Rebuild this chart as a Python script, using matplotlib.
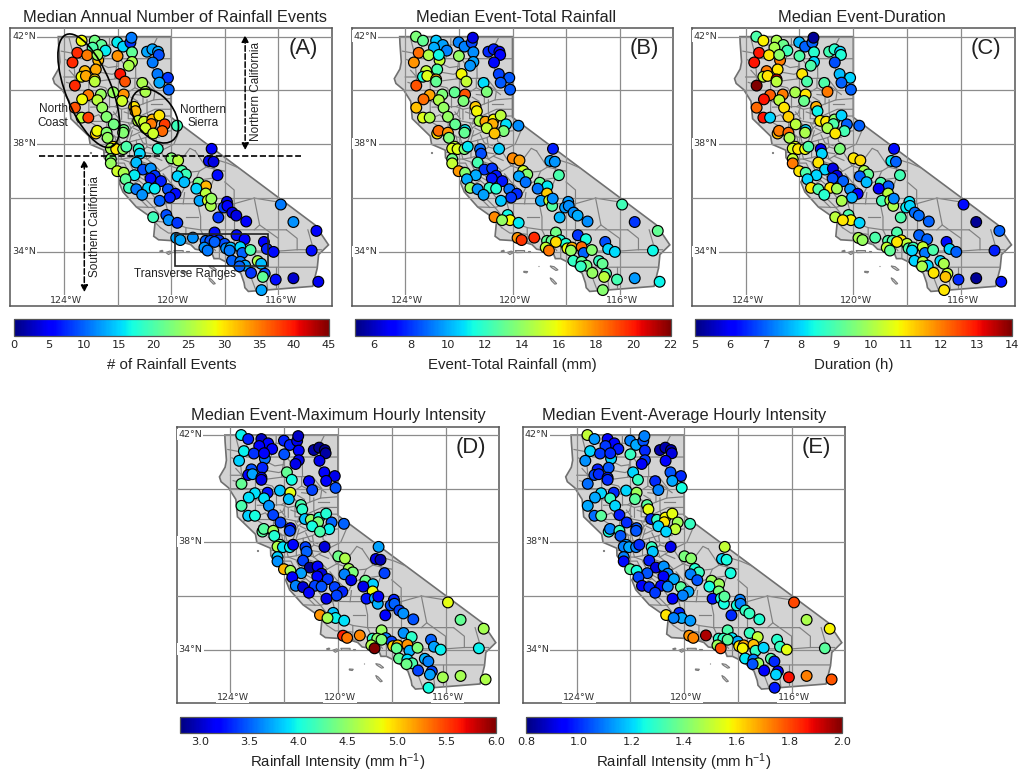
import numpy as np
import matplotlib
matplotlib.use('Agg')
import matplotlib.pyplot as plt
from matplotlib.patches import Polygon, Ellipse, Rectangle
from matplotlib.cm import ScalarMappable
from matplotlib.colors import Normalize

plt.rcParams['font.family'] = ['Liberation Sans', 'DejaVu Sans']
plt.rcParams['mathtext.default'] = 'regular'

W, H = 1021, 774

# station positions
lon = [-123.60,-123.34,-122.85,-122.60,-122.93,-122.45,-123.50,-123.13,-122.72,-122.75,-123.68,-122.81,-123.22,-123.34,
       -123.18,-122.85,-122.85,-123.59,-123.09,-123.32,-122.62,-122.75,-123.59,-122.57,-123.34,-123.09,-122.41,-122.14,
       -122.81,-122.76,-122.41,-122.37,-122.01,-121.79,-121.52,-121.48,-121.46,-122.00,-121.46,-121.58,-120.90,-120.70,
       -120.49,-120.46,-120.69,-121.90,-121.72,-120.51,-120.12,-120.44,-121.08,-120.09,-120.96,-122.16,-121.77,-121.83,
       -121.38,-121.33,-121.23,-121.01,-120.70,-120.44,-120.74,-120.96,-120.24,-120.33,-120.67,-119.78,-121.77,-121.79,
       -122.16,-122.25,-122.05,-121.79,-121.67,-121.21,-121.17,-120.50,-118.49,-119.99,-119.74,-118.59,-118.42,-121.30,
       -122.25,-122.25,-121.05,-120.76,-122.01,-121.77,-121.37,-120.61,-120.77,-120.38,-121.70,-119.60,-119.45,-119.76,
       -119.51,-118.27,-118.98,-118.70,-119.06,-121.57,-121.30,-120.86,-120.61,-121.08,-120.12,-119.84,-120.05,-120.43,
       -118.71,-118.94,-118.63,-118.52,-118.50,-117.92,-118.04,-117.90,-117.72,-117.57,-118.24,-117.20,-115.91,-115.44,
       -114.58,-120.67,-120.18,-120.09,-120.39,-119.77,-119.81,-119.66,-119.19,-118.38,-117.56,-117.26,-118.71,-118.54,
       -118.22,-118.01,-118.38,-118.76,-118.64,-117.95,-117.78,-117.82,-117.42,-117.34,-117.04,-116.54,-116.43,-116.18,
       -114.76,-117.73,-117.42,-117.24,-117.45,-116.77,-116.64,-117.02,-116.51,-116.58,-116.10,-115.44,-114.51,-116.63]
lat = [42.00,41.85,41.85,41.69,41.59,41.48,41.40,41.31,41.12,41.32,41.04,40.78,40.72,40.51,
       40.54,40.41,40.33,40.18,39.83,39.67,39.85,39.64,39.36,39.36,38.99,38.99,39.02,38.74,
       38.40,38.50,38.43,38.24,41.79,41.63,41.78,41.96,41.42,41.28,41.06,40.92,41.44,41.53,
       41.44,41.32,41.04,40.61,40.33,40.61,40.47,40.29,40.28,40.03,39.95,39.93,39.85,39.61,
       39.39,39.23,38.87,38.84,38.92,39.07,38.75,38.60,38.74,38.49,38.40,38.69,38.53,38.43,
       37.91,37.84,37.82,37.82,37.91,37.82,37.65,37.83,37.83,37.48,37.40,37.38,37.35,37.32,
       37.45,37.29,37.06,37.10,37.00,36.94,36.85,36.83,36.73,36.63,36.70,37.01,36.88,36.81,
       36.59,36.85,36.57,36.44,36.35,36.38,36.33,36.38,36.35,36.12,36.33,36.16,36.02,35.90,
       36.17,35.90,35.91,35.71,35.98,35.86,35.65,35.71,35.46,35.35,35.28,35.13,35.76,35.11,
       34.78,35.29,35.37,35.18,35.18,35.08,34.52,34.44,34.53,34.72,34.62,34.47,34.41,34.41,
       34.43,34.30,34.37,34.16,34.05,34.13,34.16,34.05,34.18,33.96,34.07,34.37,34.11,34.00,
       34.05,33.67,33.63,33.49,33.46,33.66,33.56,33.22,33.19,33.07,32.97,33.02,32.89,32.58]

nan = float('nan')
events = [nan,29,22,21,20,16,39,35,32,24,39,33,32,29,
          33,31,26,39,35,29,24,26,37,24,26,38,23,22,
          31,29,23,24,16,15,8,11,21,34,25,25,13,13,
          13,9,11,40,37,11,8,13,25,10,25,24,34,27,
          30,32,26,27,32,30,35,27,38,36,27,19,22,23,
          30,25,30,24,20,18,15,18,5,23,26,6,4,14,
          23,24,9,12,27,25,16,8,6,7,21,20,19,15,
          14,6,22,32,15,19,11,15,16,12,9,6,7,10,
          26,13,27,25,24,4,8,5,4,4,8,5,11,12,
          5,19,9,12,nan,8,13,13,12,6,6,5,10,9,
          8,9,10,12,11,12,14,11,15,10,20,5,7,6,
          6,10,11,13,10,25,14,8,9,21,6,3,4.5,13]
total = [13.5,13,10.5,9.8,10,9.3,18.5,14.5,15,11.3,17.8,12.5,15,11.5,
         15.5,17.5,13,19,17.5,18.5,13.5,14.5,17,14,15.5,14.5,14,13,
         16.5,18.5,17.8,13.5,9.3,9.3,8.3,6.5,9.5,14,9.8,9.6,7.8,7.6,
         6.8,7,7.2,16,15,8.2,8.6,8.6,10.8,8.6,13.5,13,19,13.5,
         16.8,16,14.5,17.5,16,14.8,17.3,15,10.9,13.5,17,9.5,11,13,
         15,15.5,15.5,13.5,11,9,8.4,10.6,7.6,18,17.6,9.8,9.6,12.4,
         13.3,15,8,8,17.7,13.7,10,7.5,7.5,7.5,10,15.2,13.7,9.9,
         9,12.5,13,11,9.1,14,9.6,12,11.7,9.8,9,7.8,8,10.5,
         16.8,9.9,15,12.7,9.5,9.7,9.7,9.5,9.5,10,10.2,9.5,12.3,8,
         13,18,11.3,16,14,11,17.8,19.5,19.7,13.3,8,11.5,13,13,
         11.5,11.6,16.5,15,18.3,15.8,17.3,14,18.5,8.8,13.7,8.4,10.7,10.8,
         11.3,12,13,13.4,12,12,13,14,12.5,14.8,12.4,9.7,11.2,13.7]
duration = [9,10.9,10,9.3,10,8.8,13,11,12,9.7,13,11,12,10.3,
            11,13.2,10.2,14,12.3,13,12,10.2,12.2,11,13,8,11.2,10.2,
            11.4,12,12.2,10,7.7,7,7,5.2,8.6,9,8,9,8.9,8.6,
            8,8.5,6.8,11,9,7.8,8,7,9,7,12,10,11,9.3,
            11.5,8.3,10.9,11,9.7,8,9,10,7,8.9,11,7,8,10,
            10.6,10.5,11,10.8,9,6,8,9.5,6.2,11,11.1,8.2,7,11,
            10.3,12,8,5.8,11,9,8,5.8,6.8,7,8,10,9.2,7,
            7.8,8.9,9,7,6,11,9,11,9.9,8.6,7.4,6,7.7,10,
            10.2,8.9,10,10,7.3,8.1,8.2,8,7.1,7.1,9,7,6.2,5.2,
            7,10.2,9,10.9,11,8,10,9.8,9,9,7,7,9,9,
            11,10.2,11,10.3,9.2,9,8.8,8,10.3,7.2,9,6.2,8,7,
            6.4,8,10.2,8,10,8,10,11,10.3,11.3,6.5,5.2,6.3,11]
max_int = [3.95,3.3,3.0,3.2,3.2,3.2,3.95,3.35,3.55,3.2,3.85,3.3,3.45,3.15,
           3.7,3.2,3.1,4.3,3.9,3.9,3.25,3.9,4.2,3.65,3.85,4.0,3.4,3.4,
           4.25,4.25,4.55,4.05,3.3,3.3,3.1,3.0,3.2,3.45,3.1,3.1,2.9,2.85,
           2.85,2.9,3.1,4.3,4.0,3.2,3.1,3.15,3.2,3.45,3.4,3.8,4.8,3.8,
           4.2,4.1,3.8,4.5,4.05,4.05,4.4,4.0,3.5,3.95,4.2,3.5,3.15,3.4,
           4.35,4.6,3.9,3.95,3.2,3.4,3.5,3.05,3.7,4.35,4.6,3.1,2.95,3.4,
           3.85,3.65,2.85,3.15,5.1,4.55,3.7,3.05,3.2,3.35,3.2,4.55,4.4,3.6,
           3.1,3.4,4.35,3.85,3.1,3.6,3.05,3.4,3.45,3.15,3.4,3.3,3.4,3.1,
           4.85,3.25,3.7,3.75,3.2,3.3,3.45,3.5,3.4,3.65,3.15,3.45,4.8,4.3,
           4.55,5.2,3.8,3.95,4.55,3.9,5.6,5.3,5.25,4.5,3.65,4.1,4.1,4.45,
           3.6,3.4,4.4,4.6,6.0,5.0,5.1,4.3,5.2,3.75,4.4,3.5,3.7,3.95,
           3.95,4.3,3.9,4.2,4.35,3.75,3.6,3.4,3.4,3.7,4.55,4.55,4.6,4.0]
avg_int = [1.5,1.13,.93,.95,1.02,.98,1.2,1.02,1.2,1.0,1.12,1.05,.98,1.03,
           1.0,.97,1.0,1.08,1.2,1.15,1.0,1.3,1.15,1.2,1.08,1.35,.98,1.0,
           1.25,1.1,1.3,1.05,1.1,1.15,1.05,1.1,1.0,1.3,1.02,.93,.85,.85,
           .85,.9,.95,1.2,1.3,1.05,1.0,1.15,1.0,1.25,1.1,1.2,1.45,1.35,
           1.35,1.55,1.0,1.3,1.58,1.55,1.6,1.2,1.45,1.5,1.2,1.3,1.05,1.05,
           1.12,1.1,1.15,1.1,1.0,1.3,1.18,.92,1.5,1.4,1.42,1.2,1.25,.98,
           1.1,.96,.9,1.12,1.35,1.25,1.05,1.1,.95,1.15,1.03,1.27,1.3,1.1,
           1.05,1.25,1.45,1.45,1.25,.95,1.0,.95,1.1,1.02,1.35,1.15,1.1,.95,
           1.4,.97,1.25,1.25,1.35,1.1,1.25,1.1,1.3,1.3,1.0,1.27,1.8,1.47,
           1.58,1.6,1.0,1.15,1.1,1.13,1.7,1.72,1.95,1.33,1.3,1.5,1.27,1.3,
           1.22,1.15,1.35,1.45,1.8,1.6,1.68,1.58,1.65,1.3,1.2,1.28,1.3,1.55,
           1.35,1.22,1.1,1.45,1.05,1.33,1.0,.95,.95,1.2,1.87,1.73,1.78,.98]

# panel settings
panel_titles = ['Median Annual Number of Rainfall Events', 'Median Event-Total Rainfall', 'Median Event-Duration',
                'Median Event-Maximum Hourly Intensity', 'Median Event-Average Hourly Intensity']
title_shift = [4, 3.5, 9, 0.5, 0]
panel_tags = ['(A)', '(B)', '(C)', '(D)', '(E)']
cbar_labels = ['# of Rainfall Events', 'Event-Total Rainfall (mm)', 'Duration (h)',
               'Rainfall Intensity (mm h$^{-1}$)', 'Rainfall Intensity (mm h$^{-1}$)']
cbar_pads = [5.5, 5.5, 5.5, 3, 3]
vmins = [0, 5, 5, 2.8, 0.8]
vmaxs = [45, 22, 14, 6, 2]
cbar_ticks = [list(range(0, 50, 5)), list(range(6, 24, 2)), list(range(5, 15)),
              [3.0, 3.5, 4.0, 4.5, 5.0, 5.5, 6.0], [0.8, 1.0, 1.2, 1.4, 1.6, 1.8, 2.0]]
tick_fmt = ['%d', '%d', '%d', '%.1f', '%.1f']
series = [events, total, duration, max_int, avg_int]

# pixel boxes: left, right, top, bottom
map_boxes = [(10.3, 332, 28.3, 305.7), (351.7, 673.3, 28.3, 305.7), (691.7, 1015, 28.3, 305.7),
             (176.7, 499.3, 426.7, 703.3), (523, 845.3, 426.7, 703.3)]
bar_boxes = [(13.7, 329, 319, 335.7), (355, 670.7, 319, 335.7), (695, 1011.7, 319, 335.7),
             (180, 496, 717.3, 732.7), (526, 842.3, 717.3, 732.7)]

# state outline
state_lon = [-124.21,-120.0,-120.0,-114.63,-114.13,-114.5,-114.55,-114.72,-117.12,-117.25,-117.28,-117.4,-117.7,-117.9,
             -118.2,-118.4,-118.5,-118.7,-119.1,-119.27,-119.7,-120.47,-120.65,-120.6,-120.87,-121.3,-121.8,-121.95,
             -121.8,-122.03,-122.5,-122.51,-123.02,-123.07,-123.74,-123.8,-124.07,-124.35,-124.41,-124.2,-124.15,-124.2]
state_lat = [42.0,42.0,39.0,35.0,34.26,33.9,33.4,32.72,32.53,32.67,32.85,33.2,33.46,33.6,
             33.75,33.75,34.0,34.03,34.1,34.27,34.4,34.45,34.58,35.1,35.37,35.67,36.23,36.6,
             36.8,36.95,37.5,37.78,38.0,38.3,38.95,39.6,40.03,40.26,40.44,40.8,41.06,41.75]

islands = [[(-120.43,34.03),(-120.33,34.06),(-120.3,34.02),(-120.4,34.0)],
           [(-120.2,33.98),(-120.05,34.03),(-119.95,33.98),(-120.1,33.9)],
           [(-119.9,34.05),(-119.55,34.05),(-119.55,33.98),(-119.85,33.97)],
           [(-119.43,34.02),(-119.35,34.02),(-119.35,34.0),(-119.43,34.0)],
           [(-119.58,33.28),(-119.43,33.27),(-119.47,33.22),(-119.58,33.24)],
           [(-119.05,33.49),(-119.02,33.49),(-119.02,33.46),(-119.05,33.46)],
           [(-118.6,33.48),(-118.45,33.45),(-118.3,33.33),(-118.38,33.31),(-118.55,33.42)],
           [(-118.6,33.04),(-118.5,32.98),(-118.35,32.82),(-118.42,32.8),(-118.55,32.93)],
           [(-123.03,37.71),(-122.99,37.71),(-122.99,37.68),(-123.03,37.68)]]

# county and sub-county lines
county_lines = [
    [(-123.82,42),(-123.66,41.38),(-124.1,41.46)], [(-123.66,41.38),(-123.62,40.93),(-123.55,40.0),(-124.05,40.0)],
    [(-123.66,41.38),(-123.41,41.18),(-122.9,41.2),(-122.5,41.18),(-121.45,41.18),(-120,41.18)],
    [(-121.45,42),(-121.45,41.18)], [(-123.07,40.3),(-122.0,40.44),(-121.35,40.45),(-120.95,40.45)],
    [(-121.33,41.18),(-121.32,40.45)], [(-122.9,41.2),(-122.75,40.7),(-123.07,40.3),(-123.07,40.0),(-123.55,40.0)],
    [(-123.07,40.0),(-122.93,39.8),(-121.8,39.8),(-121.35,40.1),(-121.35,40.45)],
    [(-123.07,40.0),(-123.07,39.4),(-123.07,39.0),(-123.35,38.85),(-123.55,38.77)],
    [(-123.07,38.85),(-122.63,38.6),(-122.4,38.15)], [(-123.07,38.85),(-122.8,38.85),(-122.4,38.85),(-122.1,38.9),(-121.6,38.8),(-121.5,38.6)],
    [(-123.0,39.38),(-122.1,39.4),(-121.85,39.3),(-121.85,38.93)], [(-121.8,39.8),(-121.95,39.5),(-122.1,39.4)],
    [(-122.4,38.15),(-122.05,38.05),(-121.7,38.05),(-121.6,38.3),(-121.5,38.6)], [(-122.4,38.85),(-122.4,38.5),(-122.1,38.3),(-122.05,38.05)],
    [(-121.85,39.3),(-121.6,39.35),(-121.3,39.4),(-121.05,39.5),(-120.65,39.65),(-120.0,39.7)],
    [(-121.35,40.1),(-121.05,39.95),(-121.05,39.5)], [(-120.95,40.45),(-120.6,40.0),(-120.65,39.65)],
    [(-121.6,39.35),(-121.6,38.95),(-121.3,38.95),(-121.05,39.1),(-120.6,39.3),(-120.0,39.3)],
    [(-121.6,38.8),(-121.3,38.75),(-121.05,38.8),(-120.5,39.05),(-120.0,39.05)], [(-121.5,38.6),(-121.3,38.75)],
    [(-121.3,38.75),(-121.05,38.5),(-120.9,38.5),(-120.3,38.7),(-120.0,38.75),(-119.6,38.7)],
    [(-121.5,38.3),(-121.05,38.5)], [(-121.7,38.05),(-121.3,38.15),(-120.95,38.25),(-120.6,38.45),(-120.0,38.5)],
    [(-120.95,38.25),(-120.9,37.9),(-120.4,37.75),(-119.9,38.0),(-119.6,38.7)], [(-120.9,37.9),(-121.25,37.6),(-121.55,37.5),(-121.55,37.85),(-121.7,38.05)],
    [(-122.5,37.7),(-122.1,37.7),(-121.55,37.85)], [(-122.5,37.5),(-122.1,37.45),(-121.85,37.45),(-121.55,37.5)],
    [(-122.3,37.1),(-122.1,37.45)], [(-122.3,37.15),(-121.8,37.15),(-121.7,36.9),(-121.8,36.8)],
    [(-121.85,37.45),(-121.45,37.3),(-121.2,37.15),(-120.85,37.05),(-120.6,36.95)], [(-121.7,36.9),(-121.45,36.95),(-121.2,36.65),(-120.9,36.4),(-120.6,36.0),(-120.2,35.8)],
    [(-121.25,37.6),(-120.9,37.45),(-120.6,37.2),(-120.4,37.0),(-120.6,36.95)], [(-120.9,37.45),(-120.4,37.75)],
    [(-120.4,37.75),(-120.05,37.2),(-120.4,37.0)], [(-120.05,37.2),(-119.6,37.45),(-119.3,37.85),(-119.1,37.75)],
    [(-120.05,37.2),(-119.75,37.1),(-119.45,36.95),(-118.95,37.0),(-118.7,37.15),(-119.1,37.75)],
    [(-120.2,35.8),(-120.0,36.15),(-119.6,36.2),(-119.45,36.5),(-119.1,36.65),(-118.95,37.0)],
    [(-120.2,35.8),(-119.55,35.79),(-118.95,35.79),(-118.0,35.79),(-117.65,35.79)], [(-119.1,36.65),(-118.4,36.75),(-118.4,37.45)],
    [(-118.95,35.79),(-118.6,36.2),(-118.4,36.75)], [(-120.65,35.65),(-120.2,35.8)], [(-121.3,35.67),(-120.65,35.65)],
    [(-120.65,35.15),(-120.2,35.1),(-119.7,35.0),(-119.45,34.9),(-118.9,34.82),(-117.65,34.82),(-115.7,34.82)],
    [(-119.45,34.9),(-119.45,34.4),(-119.2,34.2)], [(-118.9,34.82),(-118.7,34.4),(-118.7,34.03)],
    [(-119.7,35.0),(-120.1,35.4),(-120.2,35.8)], [(-117.65,34.82),(-117.65,34.0),(-117.5,33.9),(-117.7,33.46)],
    [(-117.65,35.79),(-117.65,34.82)], [(-117.65,34.0),(-116.9,34.03),(-116.0,34.03),(-115.3,34.08),(-114.4,34.08)],
    [(-117.5,33.5),(-116.9,33.43),(-116.1,33.43),(-114.5,33.43)], [(-116.1,33.43),(-116.1,32.62)],
    [(-118.4,37.45),(-117.9,37.3),(-117.2,37.0)], [(-117.65,35.79),(-116.9,36.0),(-116.3,35.9),(-115.65,35.8)],
    [(-118.0,36.6),(-117.65,36.3),(-117.65,35.79)], [(-116.9,36.0),(-116.7,35.0),(-116.0,34.5),(-116.0,34.03)],
    [(-115.7,34.82),(-115.3,34.5),(-115.3,34.08)], [(-114.9,34.82),(-114.75,34.3)], [(-116.7,35.0),(-116.9,34.82)],
    [(-118.3,34.82),(-118.2,34.4),(-118.2,33.75)], [(-118.7,34.4),(-118.2,34.4),(-117.65,34.3)], [(-117.1,33.43),(-117.0,33.0),(-116.85,32.6)],
    [(-116.5,33.43),(-116.4,32.62)], [(-122.8,40.7),(-122.2,40.6),(-121.8,40.75)], [(-122.5,41.18),(-122.3,41.7),(-122.3,42)],
    [(-123.2,41.7),(-122.9,41.6),(-122.3,41.7),(-121.8,41.6),(-121.45,41.6)], [(-123.3,41.2),(-123.4,41.6),(-123.2,42)],
    [(-120.5,41.18),(-120.7,41.6),(-120.5,42)], [(-122.0,41.18),(-122.1,40.44)], [(-124.0,40.5),(-123.62,40.5),(-123.07,40.65)],
    [(-123.55,39.5),(-123.07,39.6),(-122.7,39.5)], [(-122.7,39.8),(-122.6,39.38)], [(-122.3,39.8),(-122.3,39.4)],
    [(-122.95,39.0),(-122.7,39.1),(-122.5,38.85)], [(-121.85,39.8),(-121.55,39.55),(-121.6,39.35)], [(-121.3,39.4),(-121.3,38.95)],
    [(-120.9,39.65),(-120.9,39.2),(-120.8,38.8)], [(-120.5,39.05),(-120.3,38.7)], [(-121.05,37.9),(-120.9,37.45)],
    [(-121.3,38.15),(-121.25,37.6)], [(-122.0,38.45),(-121.9,38.05)], [(-121.2,36.65),(-121.55,36.45),(-121.8,36.23)],
    [(-121.55,36.45),(-120.9,35.9),(-120.65,35.65)], [(-119.9,37.4),(-119.6,37.1)], [(-118.7,37.15),(-118.0,37.0)],
    [(-119.5,36.2),(-119.55,35.79)], [(-119.0,35.79),(-118.9,35.3),(-118.9,34.82)], [(-119.45,35.3),(-119.0,35.3)],
    [(-120.4,34.9),(-120.1,34.7),(-119.8,34.7),(-119.45,34.65)], [(-120.65,35.15),(-120.4,34.9)],
    [(-122.3,39.05),(-122.05,39.15),(-121.9,39.55)], [(-122.2,38.65),(-121.95,38.6),(-121.8,38.35)], [(-121.45,38.95),(-121.5,38.75)],
    [(-121.15,38.95),(-121.15,38.65),(-120.95,38.4)], [(-120.75,38.95),(-120.65,38.65),(-120.5,38.5)], [(-121.45,38.5),(-121.55,38.15)],
    [(-121.2,38.35),(-121.05,38.05),(-120.75,37.95)], [(-120.6,38.45),(-120.55,38.1),(-120.3,37.95)], [(-121.7,37.85),(-121.9,37.65),(-121.85,37.45)],
    [(-122.25,37.95),(-122.05,37.85),(-121.8,37.95)], [(-122.6,38.2),(-122.35,37.95)], [(-121.55,37.3),(-121.4,37.0),(-121.2,36.9)],
    [(-122.0,37.3),(-121.75,37.3),(-121.65,37.1)], [(-121.1,37.35),(-120.8,37.25)], [(-120.85,36.95),(-120.7,36.65),(-120.4,36.45)],
    [(-121.0,36.8),(-120.75,36.6)], [(-120.3,36.9),(-120.05,36.6),(-119.8,36.35)], [(-119.95,36.95),(-119.7,36.7),(-119.45,36.5)],
    [(-121.65,36.65),(-121.4,36.45),(-121.15,36.15)], [(-121.25,36.05),(-120.85,35.65)], [(-120.65,35.65),(-120.45,35.4),(-120.65,35.15)],
    [(-123.8,40.75),(-123.4,40.3)], [(-123.95,41.15),(-123.62,41.0)], [(-123.9,40.3),(-123.55,40.2)], [(-123.65,39.25),(-123.25,39.0)],
    [(-122.95,38.6),(-122.7,38.35)], [(-122.85,40.2),(-122.45,40.1),(-122.25,39.85)], [(-122.65,41.0),(-122.35,40.85),(-122.0,40.9)],
    [(-121.9,41.18),(-121.75,40.95),(-121.45,40.9)], [(-120.75,41.18),(-120.65,40.75),(-120.25,40.6)], [(-120.65,40.45),(-120.0,40.3)],
    [(-120.85,40.15),(-120.45,39.85)], [(-121.35,39.85),(-120.9,39.8)], [(-118.85,34.6),(-118.45,34.6)], [(-119.15,34.65),(-118.85,34.4)],
    [(-118.55,34.3),(-118.35,34.05)], [(-118.0,34.4),(-117.95,33.95),(-117.75,33.7)], [(-117.35,34.3),(-117.3,33.9)], [(-117.3,33.7),(-117.15,33.3)],
    [(-118.2,34.15),(-117.85,34.1)], [(-116.9,33.95),(-116.75,33.65)], [(-117.1,33.15),(-116.75,33.1)],
    [(-122.15,39.2),(-121.95,38.95)], [(-121.75,39.2),(-121.45,39.1)], [(-121.9,38.75),(-121.7,38.55)], [(-121.4,38.6),(-121.2,38.5)],
    [(-122.25,38.3),(-121.95,38.25)], [(-121.45,37.95),(-121.2,37.85)], [(-120.75,38.3),(-120.45,38.25)], [(-121.05,37.7),(-120.7,37.65)],
    [(-120.7,37.55),(-120.35,37.4)], [(-122.05,37.05),(-121.9,36.9)], [(-121.3,36.85),(-120.95,36.65)], [(-120.55,36.7),(-120.25,36.4)],
    [(-120.05,36.35),(-119.8,36.05)], [(-121.5,39.75),(-121.25,39.6)], [(-120.75,39.5),(-120.35,39.5)], [(-120.45,38.95),(-120.15,38.9)],
]

grid_lons = [-124, -122, -120, -118, -116]
grid_lats = [42, 40, 38, 36, 34]
lat_tick_vals = [42, 38, 34]
lon_tick_vals = [124, 120, 116]
lon_min, lon_max, lat_min, lat_max = -126.0, -114.0, 32.0, 42.31


def box_axes(box):
    l, r, t, b = box
    return plt.gcf().add_axes([l / W, 1 - b / H, (r - l) / W, (b - t) / H])


fig = plt.figure(figsize=(W / 100, H / 100), dpi=100)

for i in range(5):
    ax = box_axes(map_boxes[i])
    ax.set_xlim(lon_min, lon_max)
    ax.set_ylim(lat_min, lat_max)
    ax.set_xticks([])
    ax.set_yticks([])
    for sp in ax.spines.values():
        sp.set_color('#555555')
        sp.set_linewidth(1.1)

    land = Polygon(list(zip(state_lon, state_lat)), closed=True, fc='#d3d3d3', ec='#707070', lw=1.2, zorder=1)
    ax.add_patch(land)
    for isl in islands:
        ax.add_patch(Polygon(isl, closed=True, fc='#d3d3d3', ec='#7a7a7a', lw=0.8, zorder=1))
    for line in county_lines:
        xs, ys = zip(*line)
        ln, = ax.plot(xs, ys, color='#808080', lw=0.85, zorder=2)
        ln.set_clip_path(land)

    for g in grid_lons:
        ax.axvline(g, color='#8c8c8c', lw=0.9, zorder=3)
    for g in grid_lats:
        ax.axhline(g, color='#8c8c8c', lw=0.9, zorder=3)

    for v in lat_tick_vals:
        ax.text(-125.93, v + 0.02, '%d°N' % v, fontsize=6.8, family='DejaVu Sans', color='#333333', va='center',
                zorder=4, bbox=dict(fc='white', ec='none', pad=0.8))
    for v in lon_tick_vals:
        ax.text(-v + 0.08, 32.2, '%d°W' % v, fontsize=6.8, family='DejaVu Sans', color='#333333', ha='center', va='center',
                zorder=4, bbox=dict(fc='white', ec='none', pad=0.5))

    ax.scatter(lon, lat, c=series[i], cmap='jet', vmin=vmins[i], vmax=vmaxs[i], s=60,
               edgecolors='black', linewidths=0.85, zorder=5)

    ax.text(-115.07, 41.55, panel_tags[i], fontsize=15.8, ha='center', va='center', color='#222222', zorder=8)

    ax.set_title(panel_titles[i], fontsize=11.8, color='#222222', pad=4.5, x=0.5 + title_shift[i] / 322.0)

    if i == 0:
        ax.add_patch(Ellipse((-123.07, 39.99), 4.5, 1.7, angle=-68, fc='none', ec='black', lw=1.2, zorder=6))
        ax.add_patch(Ellipse((-120.61, 39.05), 2.25, 1.45, angle=-54, fc='none', ec='black', lw=1.2, zorder=6))
        ax.add_patch(Rectangle((-119.84, 33.48), 3.47, 1.2, fc='none', ec='#222222', lw=1.2, zorder=6))
        ax.plot([-124.92, -115.15], [37.57, 37.57], color='black', lw=1.2, ls='--', zorder=6)
        ax.annotate('', xy=(-117.24, 42.06), xytext=(-117.24, 37.78),
                    arrowprops=dict(arrowstyle='<|-|>', ls='--', color='black', lw=1.1, shrinkA=0, shrinkB=0), zorder=6)
        ax.annotate('', xy=(-123.24, 37.43), xytext=(-123.24, 32.5),
                    arrowprops=dict(arrowstyle='<|-|>', ls='--', color='black', lw=1.1, shrinkA=0, shrinkB=0), zorder=6)
        ax.text(-116.85, 39.95, 'Northern California', rotation=90, fontsize=8.5, ha='center', va='center', color='#222222', zorder=7)
        ax.text(-122.83, 34.93, 'Southern California', rotation=90, fontsize=8.5, ha='center', va='center', color='#222222', zorder=7)
        ax.text(-124.4, 39.05, 'North\nCoast', fontsize=8.5, ha='center', va='center', color='#222222', zorder=7, linespacing=1.15)
        ax.text(-118.81, 39.03, 'Northern\nSierra', fontsize=8.5, ha='center', va='center', color='#222222', zorder=7, linespacing=1.15)
        ax.text(-119.47, 33.17, 'Transverse Ranges', fontsize=8.5, ha='center', va='center', color='#222222', zorder=7)

    cax = box_axes(bar_boxes[i])
    sm = ScalarMappable(norm=Normalize(vmins[i], vmaxs[i]), cmap='jet')
    cb = fig.colorbar(sm, cax=cax, orientation='horizontal')
    cb.set_ticks(cbar_ticks[i])
    cb.set_ticklabels([tick_fmt[i] % v for v in cbar_ticks[i]])
    cb.ax.tick_params(length=0, pad=3, labelsize=8.2, labelcolor='#222222')
    for lab in cb.ax.get_xticklabels():
        lab.set_family('DejaVu Sans')
    cb.outline.set_edgecolor('#555555')
    cb.outline.set_linewidth(0.9)
    cb.set_label(cbar_labels[i], fontsize=10.8, color='#222222', labelpad=cbar_pads[i])

fig.savefig('out.png', dpi=100)
